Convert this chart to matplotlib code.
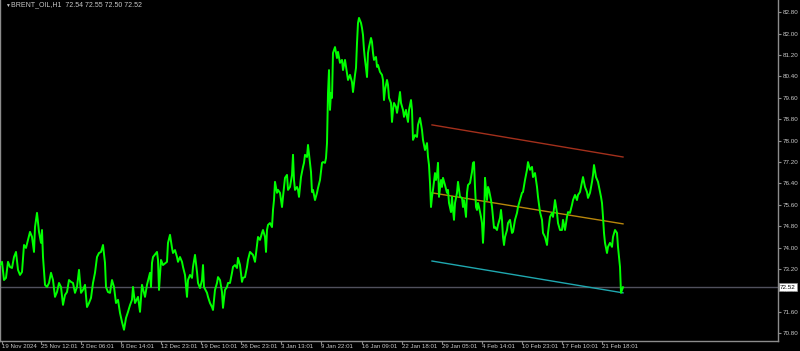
import matplotlib
matplotlib.use("Agg")
import matplotlib.pyplot as plt

plt.rcParams['font.family'] = ['Liberation Sans', 'DejaVu Sans']

# --- data (bar position, close price) ---
bars = [0, 2, 4, 6, 8, 10, 12, 14, 16, 18, 20, 22, 24, 26, 28, 30, 32, 34, 35, 37,
        39, 41, 42, 43, 45, 47, 49, 51, 53, 55, 57, 59, 61, 63, 65, 67, 69, 71, 73, 75,
        77, 79, 81, 83, 85, 87, 89, 91, 93, 95, 97, 99, 101, 103, 105, 106, 108, 110, 112, 114,
        116, 118, 120, 122, 124, 126, 128, 130, 132, 133, 135, 138, 140, 142, 145, 147, 150, 151, 152, 153,
        157, 158, 159, 161, 163, 167, 168, 170, 172, 173, 175, 177, 178, 180, 182, 183, 185, 187, 188, 190,
        192, 193, 195, 197, 198, 200, 202, 203, 204, 207, 208, 210, 212, 213, 215, 217, 218, 220, 222, 223,
        225, 227, 228, 230, 232, 233, 235, 237, 238, 240, 242, 243, 245, 247, 248, 250, 253, 255, 257, 258,
        260, 262, 263, 265, 266, 267, 268, 270, 272, 273, 274, 275, 277, 278, 280, 282, 283, 285, 287, 288,
        290, 292, 293, 294, 295, 297, 298, 299, 301, 303, 304, 305, 307, 308, 310, 311, 312, 313, 315, 317,
        318, 320, 322, 323, 325, 326, 327, 328, 329, 330, 331, 332, 333, 335, 337, 338, 340, 342, 343, 345,
        347, 348, 350, 352, 353, 355, 356, 357, 358, 359, 361, 362, 363, 364, 365, 366, 367, 368, 369, 371,
        372, 373, 374, 376, 377, 378, 380, 382, 383, 384, 385, 387, 388, 389, 391, 392, 393, 394, 396, 397,
        398, 400, 401, 403, 404, 406, 407, 408, 409, 411, 412, 413, 415, 417, 418, 420, 422, 423, 425, 427,
        428, 429, 430, 431, 432, 433, 435, 436, 437, 438, 439, 441, 442, 443, 445, 447, 448, 449, 451, 452,
        453, 454, 455, 457, 458, 460, 462, 463, 464, 466, 467, 468, 470, 472, 473, 474, 475, 476, 477, 478,
        479, 481, 482, 483, 484, 485, 486, 487, 488, 489, 491, 492, 493, 494, 495, 497, 498, 500, 501, 502,
        503, 504, 505, 507, 508, 510, 512, 513, 515, 517, 518, 520, 522, 523, 525, 527, 528, 530, 532, 533,
        535, 537, 538, 540, 542, 543, 545, 547, 548, 550, 552, 553, 555, 557, 558, 560, 562, 563, 565, 567,
        568, 570, 572, 573, 575, 577, 578, 580, 582, 583, 585, 587, 588, 590, 592, 593, 594, 596, 598, 599,
        601, 602, 603, 604, 605, 607, 608, 610, 612, 613, 615, 617, 618, 619, 620, 621, 622, 623]
close = [73.35, 73.47, 72.79, 72.87, 73.47, 73.28, 73.24, 73.65, 73.84, 73.17, 72.98, 73.09, 74.10, 73.99, 74.29, 74.59, 74.40, 73.84, 74.77, 75.30,
         74.59, 74.18, 74.66, 73.65, 72.61, 72.53, 72.68, 73.06, 72.79, 72.16, 72.34, 72.68, 72.53, 71.86, 72.23, 72.34, 72.79, 72.72, 72.68, 72.31,
         72.53, 73.17, 72.31, 72.42, 72.61, 71.78, 71.93, 72.12, 72.68, 73.06, 73.65, 73.80, 73.84, 74.10, 73.43, 72.53, 72.34, 72.31, 72.79, 72.53,
         71.93, 72.05, 71.56, 71.22, 70.93, 71.37, 71.60, 71.85, 72.05, 72.53, 71.93, 72.16, 71.60, 72.61, 72.16, 72.61, 73.06, 72.53, 73.43, 73.65,
         73.84, 73.54, 72.42, 73.54, 73.35, 73.47, 74.18, 74.48, 73.99, 73.80, 73.91, 73.65, 73.47, 73.65, 73.47, 73.28, 72.98, 72.16, 72.79, 72.98,
         72.87, 73.28, 73.73, 73.09, 72.68, 72.49, 72.79, 73.35, 72.53, 72.31, 72.16, 71.93, 71.78, 71.67, 72.42, 72.68, 72.90, 72.79, 72.34, 71.75,
         72.42, 72.53, 72.68, 72.68, 73.06, 73.28, 73.35, 73.24, 73.62, 73.35, 72.72, 72.87, 72.90, 73.28, 73.54, 73.84, 73.73, 73.47, 74.10, 74.40,
         74.29, 74.55, 74.66, 74.40, 73.84, 74.66, 74.85, 74.92, 74.77, 75.41, 75.78, 76.46, 76.05, 76.16, 76.05, 75.52, 75.90, 76.61, 76.72, 76.16,
         76.27, 76.72, 77.47, 76.53, 76.16, 76.27, 76.16, 75.90, 76.64, 77.02, 77.17, 77.47, 77.39, 77.84, 77.17, 76.83, 76.08, 76.16, 75.78, 76.05,
         76.23, 76.53, 77.17, 77.20, 77.17, 77.35, 77.91, 79.78, 80.64, 79.15, 79.78, 79.60, 81.28, 81.50, 81.09, 81.32, 80.91, 81.02, 80.64, 81.02,
         80.53, 80.27, 80.46, 80.19, 79.82, 80.46, 80.72, 81.65, 82.40, 82.59, 82.40, 82.21, 81.95, 81.39, 81.02, 80.72, 80.38, 81.28, 81.50, 81.84,
         81.69, 81.28, 81.02, 81.13, 80.76, 80.83, 80.57, 80.46, 80.27, 79.52, 79.90, 80.27, 80.08, 79.60, 79.41, 78.70, 79.15, 79.41, 79.26, 79.04,
         79.26, 79.82, 79.41, 79.15, 78.89, 79.15, 78.89, 78.70, 79.15, 79.52, 79.15, 78.03, 78.21, 78.14, 78.59, 78.85, 78.40, 78.03, 77.65, 77.91,
         77.39, 77.09, 76.42, 75.52, 75.90, 76.16, 76.79, 76.53, 76.72, 77.17, 75.90, 76.53, 76.27, 76.61, 76.34, 76.05, 76.16, 75.67, 75.33, 75.90,
         75.41, 75.04, 75.67, 76.05, 76.46, 75.90, 75.86, 75.52, 75.78, 75.15, 76.05, 76.34, 76.42, 76.83, 77.17, 77.20, 76.27, 75.52, 75.41, 75.67,
         75.52, 75.15, 74.92, 74.18, 74.92, 76.61, 76.16, 75.78, 76.27, 76.16, 75.78, 75.52, 75.15, 74.74, 74.77, 74.66, 74.85, 75.11, 75.41, 75.04,
         74.40, 74.10, 74.40, 74.66, 74.92, 75.04, 74.55, 74.59, 75.04, 75.30, 75.52, 75.78, 76.05, 76.08, 76.53, 76.91, 77.20, 76.91, 77.02, 76.64,
         76.79, 76.27, 75.90, 75.33, 75.04, 74.55, 74.40, 74.10, 74.55, 75.15, 75.30, 75.15, 75.78, 75.30, 74.92, 74.66, 74.66, 75.04, 74.66, 75.15,
         75.33, 75.30, 75.60, 75.78, 75.97, 75.78, 75.97, 76.08, 76.46, 76.64, 76.27, 76.08, 75.86, 76.05, 76.46, 76.72, 77.09, 76.64, 76.46, 76.27,
         75.90, 75.67, 75.15, 74.55, 74.18, 73.80, 74.03, 74.18, 74.03, 74.40, 74.66, 74.55, 74.03, 73.65, 73.28, 72.31, 72.42, 72.52]

# regression channel (start bar, end bar, start price, end price)
channel_bars = [432, 623]
channel_upper = [78.59, 77.39]
channel_mid = [76.05, 74.89]
channel_lower = [73.50, 72.31]

last_price = 72.52
header = "BRENT_OIL,H1  72.54 72.55 72.50 72.52"

price_ticks = [82.80, 82.00, 81.20, 80.40, 79.60, 78.80, 78.00, 77.20, 76.40,
               75.60, 74.80, 74.00, 73.20, 72.40, 71.60, 70.80]
time_ticks = [2, 41, 81, 121, 161, 201, 241, 281, 321, 362, 402, 442, 482, 522, 562, 602]
time_labels = ["19 Nov 2024", "25 Nov 12:01", "2 Dec 06:01", "6 Dec 14:01", "12 Dec 23:01",
               "19 Dec 10:01", "26 Dec 23:01", "3 Jan 13:01", "9 Jan 22:01", "16 Jan 09:01",
               "22 Jan 18:01", "29 Jan 05:01", "4 Feb 14:01", "10 Feb 23:01", "17 Feb 10:01",
               "21 Feb 18:01"]

# --- figure: MT4 style black chart ---
fig = plt.figure(figsize=(8, 3.51), dpi=100, facecolor='black')
ax = fig.add_axes([0.0, 10 / 351, 778 / 800, 341 / 351])
ax.set_facecolor('black')
ax.set_xlim(0, 778)
ax.set_ylim(70.51, 83.26)

ax.axhline(last_price, color='#50505c', lw=1.0, zorder=1)
ax.plot(bars, close, color='#00ff00', lw=1.4, zorder=3)

ax.plot(channel_bars, channel_upper, color='#a3301c', lw=1.0, zorder=2)
ax.plot(channel_bars, channel_mid, color='#b8860b', lw=1.0, zorder=2)
ax.plot(channel_bars, channel_lower, color='#1fa8b0', lw=1.0, zorder=2)

ax.spines['top'].set_visible(False)
for side in ['left', 'right', 'bottom']:
    ax.spines[side].set_color('#8c8c8c')
    ax.spines[side].set_linewidth(1.0)

ax.yaxis.tick_right()
ax.set_yticks(price_ticks)
ax.set_yticklabels([f"{p:.2f}" for p in price_ticks])
ax.set_xticks(time_ticks)
ax.set_xticklabels(time_labels, ha='left')
ax.tick_params(axis='both', direction='out', width=0.8, colors='#8c8c8c',
               labelcolor='#c8c8c8')
ax.tick_params(axis='x', length=2, pad=0.5, labelsize=4.4)
ax.tick_params(axis='y', length=2.5, pad=1.2, labelsize=4.5)

# current price tag
ax.annotate(f"{last_price:.2f}", xy=(1.0, last_price), xycoords=('axes fraction', 'data'),
            xytext=(1.5, 0), textcoords='offset points', fontsize=4.5, color='black',
            va='center', ha='left', zorder=10,
            bbox=dict(boxstyle='square,pad=0.2', fc='white', ec='#8c8c8c', lw=0.5),
            annotation_clip=False)

fig.text(5 / 800, 1 - 5 / 351, "\u25bc", fontsize=3.5, color='#c8c8c8', va='center', ha='left')
fig.text(11 / 800, 1 - 5 / 351, header, fontsize=5, color='#c8c8c8', va='center', ha='left')

fig.savefig("out.png", dpi=100, facecolor='black')
